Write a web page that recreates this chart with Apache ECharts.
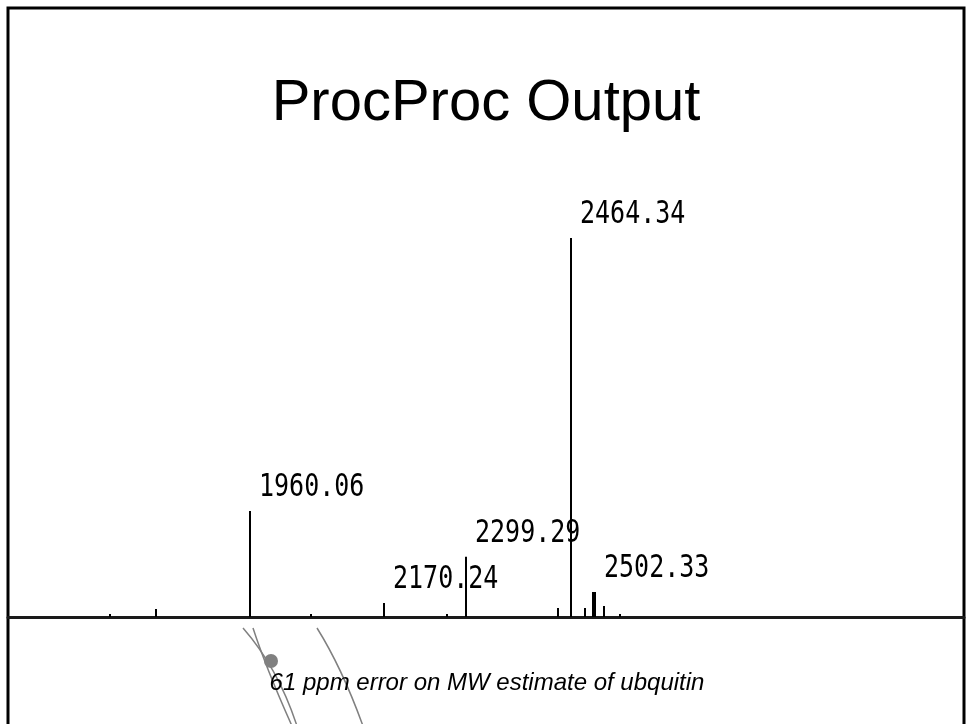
<!DOCTYPE html>
<html>
<head>
<meta charset="utf-8">
<title>ProcProc Output</title>
<script src="https://cdn.jsdelivr.net/npm/echarts@6/dist/echarts.min.js"></script>
<style>
  html, body { margin: 0; padding: 0; background: #fff; }
  #chart { width: 967px; height: 724px; }
</style>
</head>
<body>
<div id="chart"></div>
<script>
// peak list (m/z, relative intensity, label)
var peakMz = [1740.1, 1812.4, 1960.06, 2055.4, 2170.24, 2269.5, 2299.29, 2443.9, 2464.34, 2486.8, 2499.9, 2502.33, 2516.7, 2541.3];
var peakIntensity = [0.8, 2.1, 28.0, 0.8, 3.7, 0.8, 15.9, 2.4, 100, 2.4, 6.6, 6.6, 2.9, 0.8];
var peakLabels = ['', '', '1960.06', '', '2170.24', '', '2299.29', '', '2464.34', '', '', '2502.33', '', ''];
var mzRange = [1579, 3083];

var titleText = 'ProcProc Output';
var captionText = '61 ppm error on MW estimate of ubquitin';

(function() {
  var chart = echarts.init(document.getElementById('chart'), null, { renderer: 'canvas' });

  var peaks = peakMz.map(function(mz, i) { return [mz, peakIntensity[i]]; });

  chart.setOption({
    animation: false,
    backgroundColor: '#fff',
    grid: { left: 8, right: 3, top: 238, bottom: 107 },
    xAxis: {
      type: 'value',
      min: mzRange[0],
      max: mzRange[1],
      axisLine: { show: true, onZero: false, lineStyle: { color: '#1a1a1a', width: 3 } },
      axisTick: { show: false },
      axisLabel: { show: false },
      splitLine: { show: false }
    },
    yAxis: {
      type: 'value',
      min: 0,
      max: 100,
      show: false
    },
    series: [{
      type: 'custom',
      clip: false,
      data: peaks,
      renderItem: function(params, api) {
        var base = api.coord([api.value(0), 0]);
        var top = api.coord([api.value(0), api.value(1)]);
        var px = Math.round(base[0]);   // snap so the 2px sticks stay crisp
        var kids = [{
          type: 'line',
          shape: { x1: px, y1: base[1], x2: px, y2: top[1] },
          style: { stroke: '#000', lineWidth: 2 }
        }];
        var lab = peakLabels[params.dataIndex];
        if (lab) {
          kids.push({
            type: 'text',
            x: px + 9,
            y: top[1] - 7,
            scaleY: 1.26,
            style: {
              text: lab,
              font: '25px "DejaVu Sans Mono", monospace',
              fill: '#000',
              align: 'left',
              verticalAlign: 'bottom'
            }
          });
        }
        return { type: 'group', children: kids };
      }
    }],
    graphic: [
      // slide frame
      {
        type: 'rect',
        shape: { x: 8, y: 8, width: 956, height: 800 },
        style: { fill: 'none', stroke: '#000', lineWidth: 3 },
        silent: true
      },
      {
        type: 'text',
        x: 486, y: 104,
        style: {
          text: titleText,
          font: '58px "Liberation Sans", Arial, sans-serif',
          fill: '#000',
          align: 'center',
          verticalAlign: 'middle'
        }
      },
      // callout strokes under the axis
      {
        type: 'bezierCurve',
        shape: { x1: 243, y1: 628, x2: 297, y2: 726, cpx1: 278, cpy1: 668 },
        style: { stroke: '#808080', lineWidth: 1.5, fill: 'none' }
      },
      {
        type: 'bezierCurve',
        shape: { x1: 253, y1: 628, x2: 292, y2: 726, cpx1: 266, cpy1: 668 },
        style: { stroke: '#808080', lineWidth: 1.5, fill: 'none' }
      },
      {
        type: 'bezierCurve',
        shape: { x1: 317, y1: 628, x2: 363, y2: 726, cpx1: 342, cpy1: 668 },
        style: { stroke: '#808080', lineWidth: 1.5, fill: 'none' }
      },
      {
        type: 'circle',
        shape: { cx: 271, cy: 661, r: 7 },
        style: { fill: '#808080' }
      },
      {
        type: 'text',
        x: 487, y: 683,
        style: {
          text: captionText,
          font: 'italic 24px "Liberation Sans", Arial, sans-serif',
          fill: '#000',
          align: 'center',
          verticalAlign: 'middle'
        }
      }
    ]
  });
  window.addEventListener('resize', function() { chart.resize(); });
})();
</script>
</body>
</html>
